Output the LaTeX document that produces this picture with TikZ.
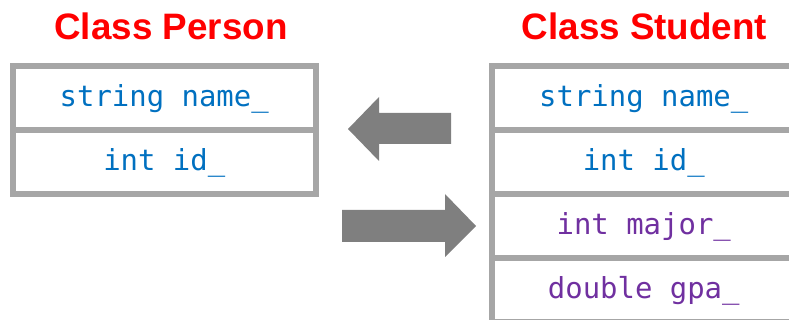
\documentclass[tikz,border=0pt]{standalone}
\usepackage{fontspec}
\setmainfont{Liberation Sans}
\newfontfamily\codefont{DejaVu Sans Mono}
\usetikzlibrary{positioning}
\definecolor{boxgrey}{RGB}{166,166,166}
\definecolor{arrowgrey}{RGB}{127,127,127}
\definecolor{fieldblue}{RGB}{0,112,192}
\definecolor{fieldpurple}{RGB}{112,48,160}
\definecolor{titlered}{RGB}{255,0,0}
\tikzset{
  field/.style={draw=boxgrey,line width=4.5pt,minimum width=227.6pt,minimum height=48pt,
    inner sep=0pt,outer sep=0pt,font=\codefont\fontsize{21.7}{24}\selectfont,
    text height=16pt,text depth=4pt},
  classtitle/.style={font=\bfseries\fontsize{27.6}{30}\selectfont,text=titlered,anchor=base},
}

\begin{document}
\begin{tikzpicture}[x=0.75pt,y=-0.75pt]
\useasboundingbox (0,0) rectangle (789,320);
% class Person
\node[classtitle] (ptitle) at (171,40) {Class Person};
\node[field,text=fieldblue] (pname) at (164.25,98.25) {string name\_};
\node[field,text=fieldblue,below=0pt of pname] (pid) {int id\_};
% class Student
\node[classtitle] (stitle) at (644.5,40) {Class Student};
\node[field,text=fieldblue] (sname) at (643.75,98.25) {string name\_};
\node[field,text=fieldblue,below=0pt of sname] (sid) {int id\_};
\node[field,text=fieldpurple,below=0pt of sid] (smajor) {int major\_};
\node[field,text=fieldpurple,below=0pt of smajor] (sgpa) {double gpa\_};
% block arrows
\fill[arrowgrey] (451,113) -- (379,113) -- (379,97) -- (348,129) -- (379,161)
  -- (379,144) -- (451,144) -- cycle;
\fill[arrowgrey] (342,210) -- (445,210) -- (445,194) -- (476,226) -- (445,257)
  -- (445,242) -- (342,242) -- cycle;
\end{tikzpicture}
\end{document}
